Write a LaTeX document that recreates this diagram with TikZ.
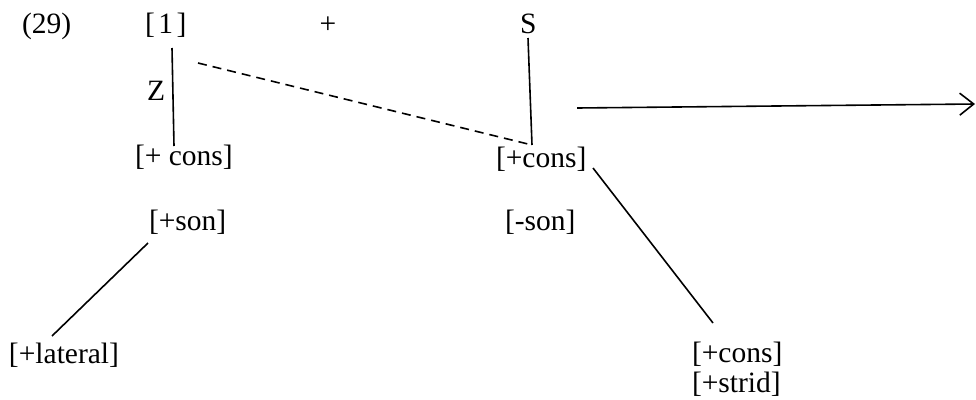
\documentclass[tikz,border=0pt]{standalone}
\usepackage{fontspec}
\setmainfont{Liberation Serif}
\usetikzlibrary{arrows.meta}
\begin{document}
\begin{tikzpicture}[x=1pt,y=-1pt,
  lbl/.style={anchor=base west,inner sep=0pt,outer sep=0pt,font=\fontsize{29.5}{33}\selectfont},
  ln/.style={line width=1.6pt},
  dsh/.style={line width=1.6pt,dash pattern=on 9pt off 6pt}]
\useasboundingbox (0,0) rectangle (976,399);
% labels
\node[lbl] (n29) at (22,33) {(29)};
\node[lbl] (one) at (145,33) {[\hspace{0.12em}1\hspace{0.12em}]};
\node[lbl,anchor=base] (plus) at (328,33) {+};
\node[lbl] (S) at (520,33) {S};
\node[lbl] (Z) at (147,100) {Z};
\node[lbl] (consL) at (135,165) {[+ cons]};
\node[lbl] (consM) at (496,167) {[+cons]};
\node[lbl] (sonL) at (149,230) {[+son]};
\node[lbl] (sonM) at (505,230) {[-son]};
\node[lbl] (lat) at (9,363) {[+lateral]};
\node[lbl] (consB) at (692,362) {[+cons]};
\node[lbl] (strid) at (692,392) {[+strid]};
% line endpoints
\coordinate (a1) at (172,48);
\coordinate (a2) at (174,146);
\coordinate (d1) at (198,63);
\coordinate (d2) at (532,145);
\coordinate (s1) at (528,38);
\coordinate (r1) at (577,108);
\coordinate (r2) at (975,104);
\coordinate (c1) at (593,168);
\coordinate (c2) at (713,323);
\coordinate (l1) at (148,243);
\coordinate (l2) at (52,336);
% connectors
\draw[ln] (a1) -- (a2);
\draw[dsh] (d1) -- (d2);
\draw[ln] (s1) -- (d2);
\draw[ln,-{Straight Barb[length=14pt,width=22pt,line width=1.6pt]}] (r1) -- (r2);
\draw[ln] (c1) -- (c2);
\draw[ln] (l1) -- (l2);
\end{tikzpicture}
\end{document}
